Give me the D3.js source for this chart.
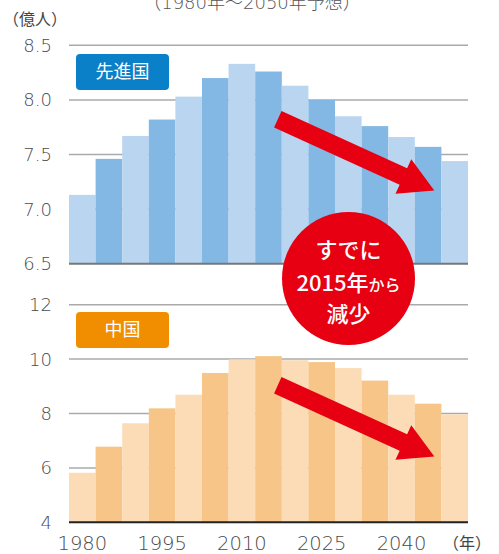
<!DOCTYPE html>
<html>
<head>
<meta charset="utf-8">
<script src="https://cdn.jsdelivr.net/npm/d3@7"></script>
<style>
body { margin: 0; background: #fff; }
svg text { font-family: "Noto Sans CJK JP", "Noto Sans", sans-serif; }
svg text.num { font-family: "DejaVu Sans", "Noto Sans CJK JP", sans-serif; font-weight: 300; }
</style>
</head>
<body>
<div id="chart"></div>
<script>
var years = [1980, 1985, 1990, 1995, 2000, 2005, 2010, 2015, 2020, 2025, 2030, 2035, 2040, 2045, 2050];
var developed = [7.13, 7.46, 7.67, 7.82, 8.03, 8.20, 8.33, 8.26, 8.13, 8.00, 7.85, 7.76, 7.66, 7.57, 7.44];
var china = [5.82, 6.78, 7.64, 8.19, 8.69, 9.49, 9.99, 10.11, 9.96, 9.89, 9.67, 9.21, 8.69, 8.36, 7.97];
var devTicks = [6.5, 7.0, 7.5, 8.0, 8.5];
var chinaTicks = [4, 6, 8, 10, 12];
var xTickYears = [1980, 1995, 2010, 2025, 2040];

var W = 499, H = 554;
var svg = d3.select("#chart").append("svg")
    .attr("width", W)
    .attr("height", H);

var x = d3.scaleBand().domain(years).range([69, 468]).padding(0);

var yDev = d3.scaleLinear().domain([6.5, 8.5]).range([263.7, 45.3]);
var yChina = d3.scaleLinear().domain([4, 12]).range([522.3, 304.7]);

// header texts (title is clipped by the top edge in the original)
svg.append("text")
    .attr("class", "num")
    .attr("x", 252).attr("y", 9)
    .attr("text-anchor", "middle")
    .style("font-size", "18px").style("fill", "#555")
    .text("（1980年～2050年予想）");

svg.append("text")
    .attr("x", 3).attr("y", 25)
    .style("font-size", "16px").style("fill", "#444")
    .text("（億人）");

function drawPanel(y, data, ticks, fmt, colors, baseColor) {
    var g = svg.append("g");
    // gridlines behind bars
    g.selectAll(".grid")
        .data(ticks.slice(1))
        .enter().append("line")
        .attr("x1", 69).attr("x2", 468)
        .attr("y1", function(d) { return y(d); })
        .attr("y2", function(d) { return y(d); })
        .style("stroke", "#aaa").style("stroke-width", 1.5);

    g.selectAll(".bar")
        .data(data)
        .enter().append("rect")
        .attr("x", function(d, i) { return x(years[i]); })
        .attr("width", x.bandwidth())
        .attr("y", function(d) { return y(d); })
        .attr("height", function(d) { return y(ticks[0]) - y(d); })
        .style("fill", function(d, i) { return colors[i % 2]; });

    g.append("line")
        .attr("x1", 69).attr("x2", 468)
        .attr("y1", y(ticks[0])).attr("y2", y(ticks[0]))
        .style("stroke", baseColor).style("stroke-width", 2);

    g.selectAll(".ylab")
        .data(ticks)
        .enter().append("text")
        .attr("class", "num")
        .attr("x", 52)
        .attr("y", function(d) { return y(d); })
        .attr("dy", "0.36em")
        .attr("text-anchor", "end")
        .style("font-size", "18px").style("fill", "#4a4a4a")
        .text(fmt);
}

drawPanel(yDev, developed, devTicks, d3.format(".1f"), ["#bad5ef", "#83b8e4"], "#777");
drawPanel(yChina, china, chinaTicks, d3.format("d"), ["#fbdcb6", "#f7c588"], "#222");

// x axis labels
svg.selectAll(".xlab")
    .data(xTickYears)
    .enter().append("text")
    .attr("class", "num")
    .attr("x", function(d) { return x(d) + x.bandwidth() / 2; })
    .attr("y", 550)
    .attr("text-anchor", "middle")
    .style("font-size", "19.5px").style("fill", "#4a4a4a")
    .text(function(d) { return d; });

svg.append("text")
    .attr("x", 467).attr("y", 549)
    .attr("text-anchor", "middle")
    .style("font-size", "16px").style("fill", "#444")
    .text("（年）");

// labels
function badge(y0, color, label) {
    svg.append("rect")
        .attr("x", 76).attr("y", y0)
        .attr("width", 93).attr("height", 36)
        .attr("rx", 4)
        .style("fill", color);
    svg.append("text")
        .attr("x", 122.5).attr("y", y0 + 18)
        .attr("dy", "0.36em")
        .attr("text-anchor", "middle")
        .style("font-size", "18px").style("fill", "#fff")
        .text(label);
}
badge(54, "#0a80c9", "先進国");
badge(312, "#f08e00", "中国");

// arrows
function arrow(x0, y0) {
    var len = 172, hw = 9, headW = 19, headL = 34;
    var ang = Math.atan2(71.4, 156.7) * 180 / Math.PI;
    var pts = [[0, -hw], [len - headL, -hw], [len - headL, -headW], [len, 0],
               [len - headL, headW], [len - headL, hw], [0, hw]];
    svg.append("polygon")
        .attr("points", pts.map(function(p) { return p.join(","); }).join(" "))
        .attr("transform", "translate(" + x0 + "," + y0 + ") rotate(" + ang + ")")
        .style("fill", "#e60012");
}
arrow(277.8, 119.3);
arrow(277.8, 385.3);

// red circle
var cx = 348.5, cy = 278.5;
svg.append("circle")
    .attr("cx", cx).attr("cy", cy).attr("r", 66.5)
    .style("fill", "#e60012");
svg.append("text")
    .attr("x", cx).attr("y", 258)
    .attr("text-anchor", "middle")
    .style("font-size", "22px").style("font-weight", "500").style("fill", "#fff")
    .text("すでに");
var t2 = svg.append("text")
    .attr("x", cx).attr("y", 291)
    .attr("text-anchor", "middle")
    .style("font-weight", "500").style("fill", "#fff");
t2.append("tspan").style("font-size", "22px").text("2015年");
t2.append("tspan").style("font-size", "16px").text("から");
svg.append("text")
    .attr("x", cx).attr("y", 322)
    .attr("text-anchor", "middle")
    .style("font-size", "22px").style("font-weight", "500").style("fill", "#fff")
    .text("減少");
</script>
</body>
</html>
